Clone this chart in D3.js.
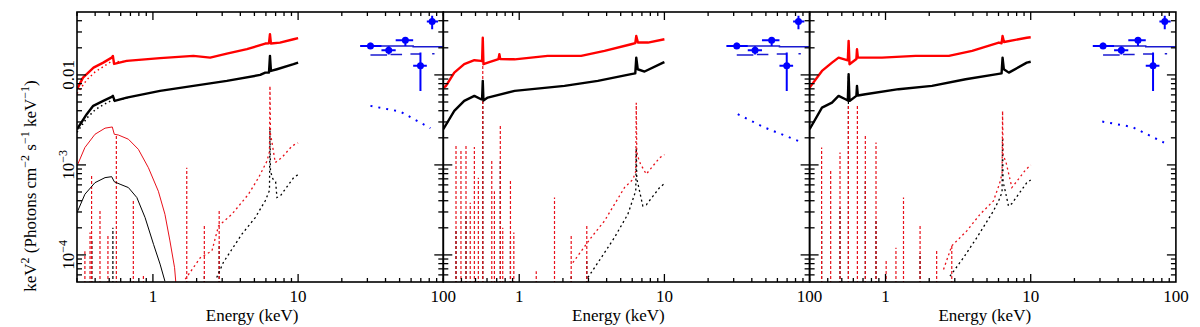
<!DOCTYPE html>
<html>
<head>
<meta charset="utf-8">
<script src="https://cdn.jsdelivr.net/npm/d3@7"></script>
<style>
  body { margin: 0; background: #fff; }
  svg { display: block; }
</style>
</head>
<body>
<div id="chart"></div>
<script>
// ---- data (energy keV, keV^2 photons cm^-2 s^-1 keV^-1) ----
const xDomain = [0.3, 100];
const yDomain = [5e-5, 0.05];
const xMajor = [1, 10, 100];
const yMajor = [0.01, 1e-3, 1e-4];
const yMajorText = [["0.01", ""], ["10", "\u22123"], ["10", "\u22124"]];

// data spectra (red = FI, black = BI)
const redData1 = [[0.30,0.00694],[0.33,0.00933],[0.39,0.01205],[0.455,0.0137],[0.52,0.01557],[0.53,0.01626],[0.54,0.01324],[0.66,0.01432],[1.12,0.01535],[1.9,0.01626],[2.48,0.01557],[3.23,0.01726],[4.44,0.01932],[5.94,0.0223],[6.3,0.0225],[6.4,0.0283],[6.5,0.0223],[7.5,0.02287],[9.3,0.0249],[10,0.0256]];
const blackData1 = [[0.30,0.00249],[0.35,0.00366],[0.388,0.00453],[0.455,0.00514],[0.52,0.0057],[0.53,0.00585],[0.545,0.00514],[0.66,0.0056],[1.12,0.00664],[1.9,0.00755],[3.23,0.00858],[5.48,0.0100],[5.94,0.0106],[6.3,0.0106],[6.4,0.01626],[6.5,0.01107],[7.15,0.01156],[9.3,0.01315],[10,0.0137]];
const redData2 = [[0.30,0.0072],[0.313,0.00755],[0.357,0.0106],[0.418,0.01315],[0.491,0.01456],[0.546,0.0143],[0.555,0.0143],[0.561,0.0259],[0.567,0.01315],[0.607,0.0137],[0.72,0.0150],[0.73,0.0170],[0.74,0.0150],[0.93,0.0149],[1.57,0.01626],[2.67,0.01626],[3.87,0.0185],[5.9,0.0219],[6.3,0.0225],[6.4,0.0271],[6.57,0.02287],[7.7,0.02287],[10,0.0249]];
const blackData2 = [[0.30,0.00249],[0.357,0.00398],[0.418,0.00514],[0.491,0.00585],[0.546,0.00537],[0.555,0.00537],[0.561,0.00858],[0.567,0.0052],[0.607,0.0056],[0.93,0.00664],[2.05,0.00755],[3.48,0.00858],[5.9,0.0102],[6.3,0.0104],[6.4,0.01557],[6.55,0.01156],[7.3,0.0109],[9.8,0.0137],[10,0.0139]];
const redData3 = [[0.30,0.00722],[0.365,0.01107],[0.428,0.0137],[0.475,0.01557],[0.55,0.0145],[0.557,0.0239],[0.565,0.01315],[0.63,0.0150],[0.636,0.0193],[0.645,0.01557],[0.946,0.01557],[1.61,0.01626],[2.73,0.01626],[3.95,0.0185],[6.03,0.02287],[6.3,0.0225],[6.4,0.0271],[6.55,0.0232],[9.4,0.0259],[10,0.0262]];
const blackData3 = [[0.30,0.00249],[0.365,0.00433],[0.428,0.00492],[0.475,0.00585],[0.53,0.00537],[0.55,0.0052],[0.557,0.0102],[0.565,0.00514],[0.63,0.00585],[0.636,0.00755],[0.645,0.0059],[0.726,0.0061],[1.23,0.00694],[2.09,0.00755],[3.56,0.00896],[5.87,0.0102],[6.3,0.0104],[6.4,0.01557],[6.53,0.01156],[7.07,0.0106],[9.4,0.0137],[10,0.0140]];

// total model below the data at low energy (panel 1)
const redModel1 = [[0.30,0.0062],[0.35,0.0088],[0.40,0.0108],[0.45,0.0122],[0.52,0.0142],[0.6,0.0140],[0.7,0.0143]];
const blackModel1 = [[0.30,0.0023],[0.35,0.0033],[0.40,0.0041],[0.46,0.0047],[0.52,0.0052],[0.6,0.0053],[0.7,0.0057]];

// soft component (panel 1 only)
const redSoft1 = [[0.304,1.02e-3],[0.34,1.56e-3],[0.399,2.19e-3],[0.468,2.56e-3],[0.525,2.64e-3],[0.542,2.19e-3],[0.578,2.15e-3],[0.678,1.93e-3],[0.794,1.49e-3],[0.931,9.3e-4],[1.09,5.1e-4],[1.21,2.83e-4],[1.31,1.43e-4],[1.41,7.2e-5],[1.44,4.8e-5]];
const blackSoft1 = [[0.30,2.95e-4],[0.34,4.72e-4],[0.399,6.35e-4],[0.468,7.22e-4],[0.52,7.4e-4],[0.542,6.5e-4],[0.594,6.1e-4],[0.678,5.6e-4],[0.775,4.34e-4],[0.883,2.6e-4],[1.01,1.31e-4],[1.12,7.9e-5],[1.21,5.1e-5]];

// reflection continuum with Fe K line
const redCont1 = [[1.67,5.37e-5],[2.12,9.3e-5],[2.55,1.11e-4],[2.83,2.1e-4],[3.5,2.83e-4],[4.55,4.72e-4],[5.34,7.22e-4],[6.1,1.1e-3],[6.35,1.4e-3],[6.4,7.55e-3],[6.45,2.2e-3],[6.6,1.8e-3],[6.96,1.06e-3],[7.74,1.21e-3],[9.1,1.63e-3],[10,1.76e-3]];
const blackCont1 = [[2.75,5.6e-5],[3.06,8.3e-5],[4.1,1.7e-4],[5.07,2.6e-4],[5.94,4.0e-4],[6.35,5.2e-4],[6.4,2.57e-3],[6.45,8.5e-4],[6.7,7.0e-4],[7.0,6.5e-4],[7.15,4.34e-4],[7.6,4.6e-4],[9.3,7.2e-4],[10,7.8e-4]];
const redCont2 = [[2.34,8.2e-5],[3.13,1.56e-4],[3.87,2.39e-4],[5.31,5.6e-4],[6.07,6.9e-4],[6.35,8.5e-4],[6.4,4.9e-3],[6.45,1.4e-3],[6.6,1.2e-3],[6.85,1.02e-3],[7.5,7.9e-4],[9.27,1.2e-3],[10,1.3e-3]];
const blackCont2 = [[2.97,5.6e-5],[3.67,9.3e-5],[4.53,1.56e-4],[5.6,2.83e-4],[6.2,4.6e-4],[6.35,5.2e-4],[6.4,1.55e-3],[6.45,7e-4],[6.6,6e-4],[7.1,3.5e-4],[7.5,3.6e-4],[9.27,5.6e-4],[10,6.2e-4]];
const redCont3 = [[2.51,6.9e-5],[2.86,1.26e-4],[3.63,1.85e-4],[4.48,2.83e-4],[5.54,3.98e-4],[6.1,6.2e-4],[6.35,8e-4],[6.4,3.98e-3],[6.45,1.3e-3],[6.77,1.06e-3],[7.42,5.6e-4],[8.03,6.6e-4],[9.17,8.7e-4],[10,1e-3]];
const blackCont3 = [[2.78,5.8e-5],[3.44,9.3e-5],[4.26,1.56e-4],[5.54,3.08e-4],[6.1,4.2e-4],[6.35,5e-4],[6.4,2.0e-3],[6.45,6.5e-4],[6.7,5e-4],[7.03,3.5e-4],[7.4,3.7e-4],[9.4,6.35e-4],[10,6.8e-4]];

// emission lines of the photoionised plasma [energy, peak]
const redLines1 = [[0.34,1.1e-4],[0.369,1.77e-4],[0.378,7.9e-4],[0.432,3.08e-4],[0.49,1.63e-4],[0.56,2.1e-3],[0.733,4.16e-4],[0.86,6.1e-5],[1.71,9.3e-4],[2.26,2.19e-4],[2.86,3.22e-4]];
const blackLines1 = [[0.38,1.5e-4],[0.53,2.0e-4],[2.26,6.1e-5],[2.86,1.31e-4]];
const redLines2 = [[0.367,1.63e-3],[0.397,1.49e-3],[0.43,1.7e-3],[0.46,3.8e-4],[0.491,1.58e-3],[0.523,7.2e-4],[0.561,0.013],[0.647,1.16e-3],[0.675,5.1e-4],[0.741,2.83e-3],[0.77,2.0e-4],[0.87,6.9e-4],[0.918,1.77e-4],[1.31,6.6e-5],[1.75,4.34e-4],[2.28,1.63e-4],[2.92,2.1e-4]];
const blackLines2 = [[0.367,1.85e-4],[0.43,2.71e-4],[0.561,8.6e-3],[0.741,1.1e-3],[0.87,1.43e-4],[2.28,5.8e-5],[2.92,8.6e-5]];
const redLines3 = [[0.363,1.56e-3],[0.419,8.6e-4],[0.486,1.37e-3],[0.555,4.5e-3],[0.64,4.5e-3],[0.726,2.19e-3],[0.86,1.77e-3],[1.01,8.96e-5],[1.18,1.2e-4],[1.33,4.34e-4],[1.73,2.19e-4],[2.25,1.16e-4],[2.86,1.31e-4]];
const blackLines3 = [[0.363,2.39e-4],[0.486,3.36e-4],[0.555,0.01],[0.726,6.6e-4],[0.86,2.39e-4],[1.73,1.04e-4]];

// hard X-ray points (blue)
const batE = [31.5, 42.1, 54.8, 69.6, 83.8];
const batELo = [26.8, 37.5, 47, 62, 77];
const batEHi = [37.5, 47, 62, 77, 92];
const batF = [0.021, 0.0188, 0.0243, 0.0126, 0.0391];
const batFLo = [0.0194, 0.0169, 0.021, 0.00664, 0.0322];
const batFHi = [0.0227, 0.0208, 0.026, 0.0177, 0.0453];
const batModel = [[26.8,0.0210],[62,0.0210],[62,0.0205],[100,0.0205]];
const batComp = [[31.5,41,0.0166],[43.3,52,0.0169],[59.4,69.6,0.0171],[83.8,87,0.0172]];
const blueDotted1 = [[31.5,4.53e-3],[50.7,3.91e-3],[66,3.08e-3],[81.5,2.56e-3]];
const blueDotted2 = [[32,3.66e-3],[49,2.6e-3],[83.4,1.85e-3]];
const blueDotted3 = [[31.1,3.03e-3],[50,2.64e-3],[82.8,1.77e-3]];

const panels = [
  { red: redData1, black: blackData1, redLines: redLines1, blackLines: blackLines1, redCont: redCont1, blackCont: blackCont1, dotted: blueDotted1, soft: true },
  { red: redData2, black: blackData2, redLines: redLines2, blackLines: blackLines2, redCont: redCont2, blackCont: blackCont2, dotted: blueDotted2, soft: false },
  { red: redData3, black: blackData3, redLines: redLines3, blackLines: blackLines3, redCont: redCont3, blackCont: blackCont3, dotted: blueDotted3, soft: false }
];

// ---- layout ----
const W = 1200, H = 327;
const plotTop = 12, plotBottom = 282, plotLeft = 77, panelW = 366.3;
const RED = "#ff0000", BLUE = "#0000ff";
const FONT = "'Liberation Serif', 'Times New Roman', Times, serif";

const svg = d3.select("#chart").append("svg").attr("width", W).attr("height", H)
  .attr("font-family", FONT);
const defs = svg.append("defs");

const y = d3.scaleLog().domain(yDomain).range([plotBottom, plotTop]);

// minor tick values
const xMinor = [];
[-1, 0, 1].forEach(k => d3.range(2, 10).forEach(m => {
  const v = m * Math.pow(10, k);
  if (v > xDomain[0] && v < xDomain[1]) xMinor.push(v);
}));
const yMinor = [];
[-5, -4, -3, -2].forEach(k => d3.range(2, 10).forEach(m => {
  const v = m * Math.pow(10, k);
  if (v > yDomain[0] && v < yDomain[1]) yMinor.push(v);
}));

panels.forEach((p, i) => {
  const x0 = plotLeft + i * panelW, x1 = x0 + panelW;
  const x = d3.scaleLog().domain(xDomain).range([x0, x1]);
  const line = d3.line().x(d => x(d[0])).y(d => y(d[1]));

  defs.append("clipPath").attr("id", "clip" + i)
    .append("rect").attr("x", x0).attr("y", plotTop).attr("width", panelW).attr("height", plotBottom - plotTop);

  const g = svg.append("g");
  const plot = g.append("g").attr("clip-path", "url(#clip" + i + ")");

  // emission lines (dashed verticals)
  [[p.blackLines, "#000"], [p.redLines, "#e8101a"]].forEach(([arr, col]) => {
    plot.append("g").selectAll("line").data(arr).join("line")
      .attr("x1", d => x(d[0])).attr("x2", d => x(d[0]))
      .attr("y1", plotBottom + 2).attr("y2", d => y(d[1]))
      .attr("stroke", col).attr("stroke-width", 1.2).attr("stroke-dasharray", "3,2");
  });

  // reflection continua (dotted)
  plot.append("path").attr("d", line(p.blackCont)).attr("fill", "none")
    .attr("stroke", "#000").attr("stroke-width", 1.3).attr("stroke-dasharray", "2,3");
  plot.append("path").attr("d", line(p.redCont)).attr("fill", "none")
    .attr("stroke", "#e8101a").attr("stroke-width", 1.3).attr("stroke-dasharray", "2,3");

  if (p.soft) {
    plot.append("path").attr("d", line(blackSoft1)).attr("fill", "none").attr("stroke", "#000").attr("stroke-width", 1);
    plot.append("path").attr("d", line(redSoft1)).attr("fill", "none").attr("stroke", "#e8101a").attr("stroke-width", 1);
    plot.append("path").attr("d", line(blackModel1)).attr("fill", "none")
      .attr("stroke", "#000").attr("stroke-width", 1.5).attr("stroke-dasharray", "1.5,3");
    plot.append("path").attr("d", line(redModel1)).attr("fill", "none")
      .attr("stroke", RED).attr("stroke-width", 1.5).attr("stroke-dasharray", "1.5,3");
  }

  // data
  plot.append("path").attr("d", line(p.black)).attr("fill", "none")
    .attr("stroke", "#000").attr("stroke-width", 2.4).attr("stroke-linejoin", "round");
  plot.append("path").attr("d", line(p.red)).attr("fill", "none")
    .attr("stroke", RED).attr("stroke-width", 2.4).attr("stroke-linejoin", "round");

  // hard X-ray: model steps, dotted component, points
  plot.append("path").attr("d", line(batModel)).attr("fill", "none").attr("stroke", "#1a1ad0").attr("stroke-width", 1.5);
  plot.append("g").selectAll("line").data(batComp).join("line")
    .attr("x1", d => x(d[0])).attr("x2", d => x(d[1]))
    .attr("y1", d => y(d[2])).attr("y2", d => y(d[2]))
    .attr("stroke", "#1a1ad0").attr("stroke-width", 1.5);
  plot.append("path").attr("d", line(p.dotted)).attr("fill", "none")
    .attr("stroke", BLUE).attr("stroke-width", 2).attr("stroke-dasharray", "2,6");
  const pts = plot.append("g").selectAll("g").data(d3.range(batE.length)).join("g");
  pts.append("line").attr("x1", k => x(batELo[k])).attr("x2", k => x(batEHi[k]))
    .attr("y1", k => y(batF[k])).attr("y2", k => y(batF[k])).attr("stroke", BLUE).attr("stroke-width", 2);
  pts.append("line").attr("x1", k => x(batE[k])).attr("x2", k => x(batE[k]))
    .attr("y1", k => y(batFLo[k])).attr("y2", k => y(batFHi[k])).attr("stroke", BLUE).attr("stroke-width", 2);
  pts.append("circle").attr("cx", k => x(batE[k])).attr("cy", k => y(batF[k])).attr("r", 3.5).attr("fill", BLUE);

  // frame
  g.append("rect").attr("x", x0).attr("y", plotTop).attr("width", panelW).attr("height", plotBottom - plotTop)
    .attr("fill", "none").attr("stroke", "#000").attr("stroke-width", 1.6);

  // x ticks, bottom and top
  const xt = xMajor.filter(v => v < xDomain[1]).map(v => [v, 8]).concat(xMinor.map(v => [v, 4]));
  g.append("g").selectAll("line").data(xt).join("line")
    .attr("x1", d => x(d[0])).attr("x2", d => x(d[0]))
    .attr("y1", plotBottom).attr("y2", d => plotBottom - d[1]).attr("stroke", "#000").attr("stroke-width", 1.3);
  g.append("g").selectAll("line").data(xt).join("line")
    .attr("x1", d => x(d[0])).attr("x2", d => x(d[0]))
    .attr("y1", plotTop).attr("y2", d => plotTop + d[1]).attr("stroke", "#000").attr("stroke-width", 1.3);

  // y ticks, left and right
  const yt = yMajor.map(v => [v, 9]).concat(yMinor.map(v => [v, 5]));
  g.append("g").selectAll("line").data(yt).join("line")
    .attr("x1", x0).attr("x2", d => x0 + d[1])
    .attr("y1", d => y(d[0])).attr("y2", d => y(d[0])).attr("stroke", "#000").attr("stroke-width", 1.3);
  g.append("g").selectAll("line").data(yt).join("line")
    .attr("x1", x1).attr("x2", d => x1 - d[1])
    .attr("y1", d => y(d[0])).attr("y2", d => y(d[0])).attr("stroke", "#000").attr("stroke-width", 1.3);

  // x tick labels
  g.append("g").selectAll("text").data(xMajor).join("text")
    .attr("x", d => x(d)).attr("y", 302).attr("text-anchor", "middle")
    .attr("font-size", 17).text(d => d);

  g.append("text").attr("x", (x0 + x1) / 2 - 8).attr("y", 321).attr("text-anchor", "middle")
    .attr("font-size", 17).text("Energy (keV)");
});

// y tick labels (rotated)
yMajor.forEach((v, k) => {
  const t = svg.append("text").attr("transform", "translate(74," + y(v) + ") rotate(-90)")
    .attr("text-anchor", "middle").attr("font-size", 17);
  t.append("tspan").text(yMajorText[k][0]);
  if (yMajorText[k][1]) t.append("tspan").attr("dy", -7).attr("font-size", 12).text(yMajorText[k][1]);
});

// y axis title
const yTitle = svg.append("text").attr("transform", "translate(36,186) rotate(-90)")
  .attr("text-anchor", "middle").attr("font-size", 17);
[["keV", 0, 17], ["2", -7, 12], [" (Photons cm", 7, 17], ["\u22122", -7, 12], [" s", 7, 17],
 ["\u22121", -7, 12], [" keV", 7, 17], ["\u22121", -7, 12], [")", 7, 17]].forEach(s => {
  yTitle.append("tspan").attr("dy", s[1]).attr("font-size", s[2]).text(s[0]);
});
</script>
</body>
</html>
